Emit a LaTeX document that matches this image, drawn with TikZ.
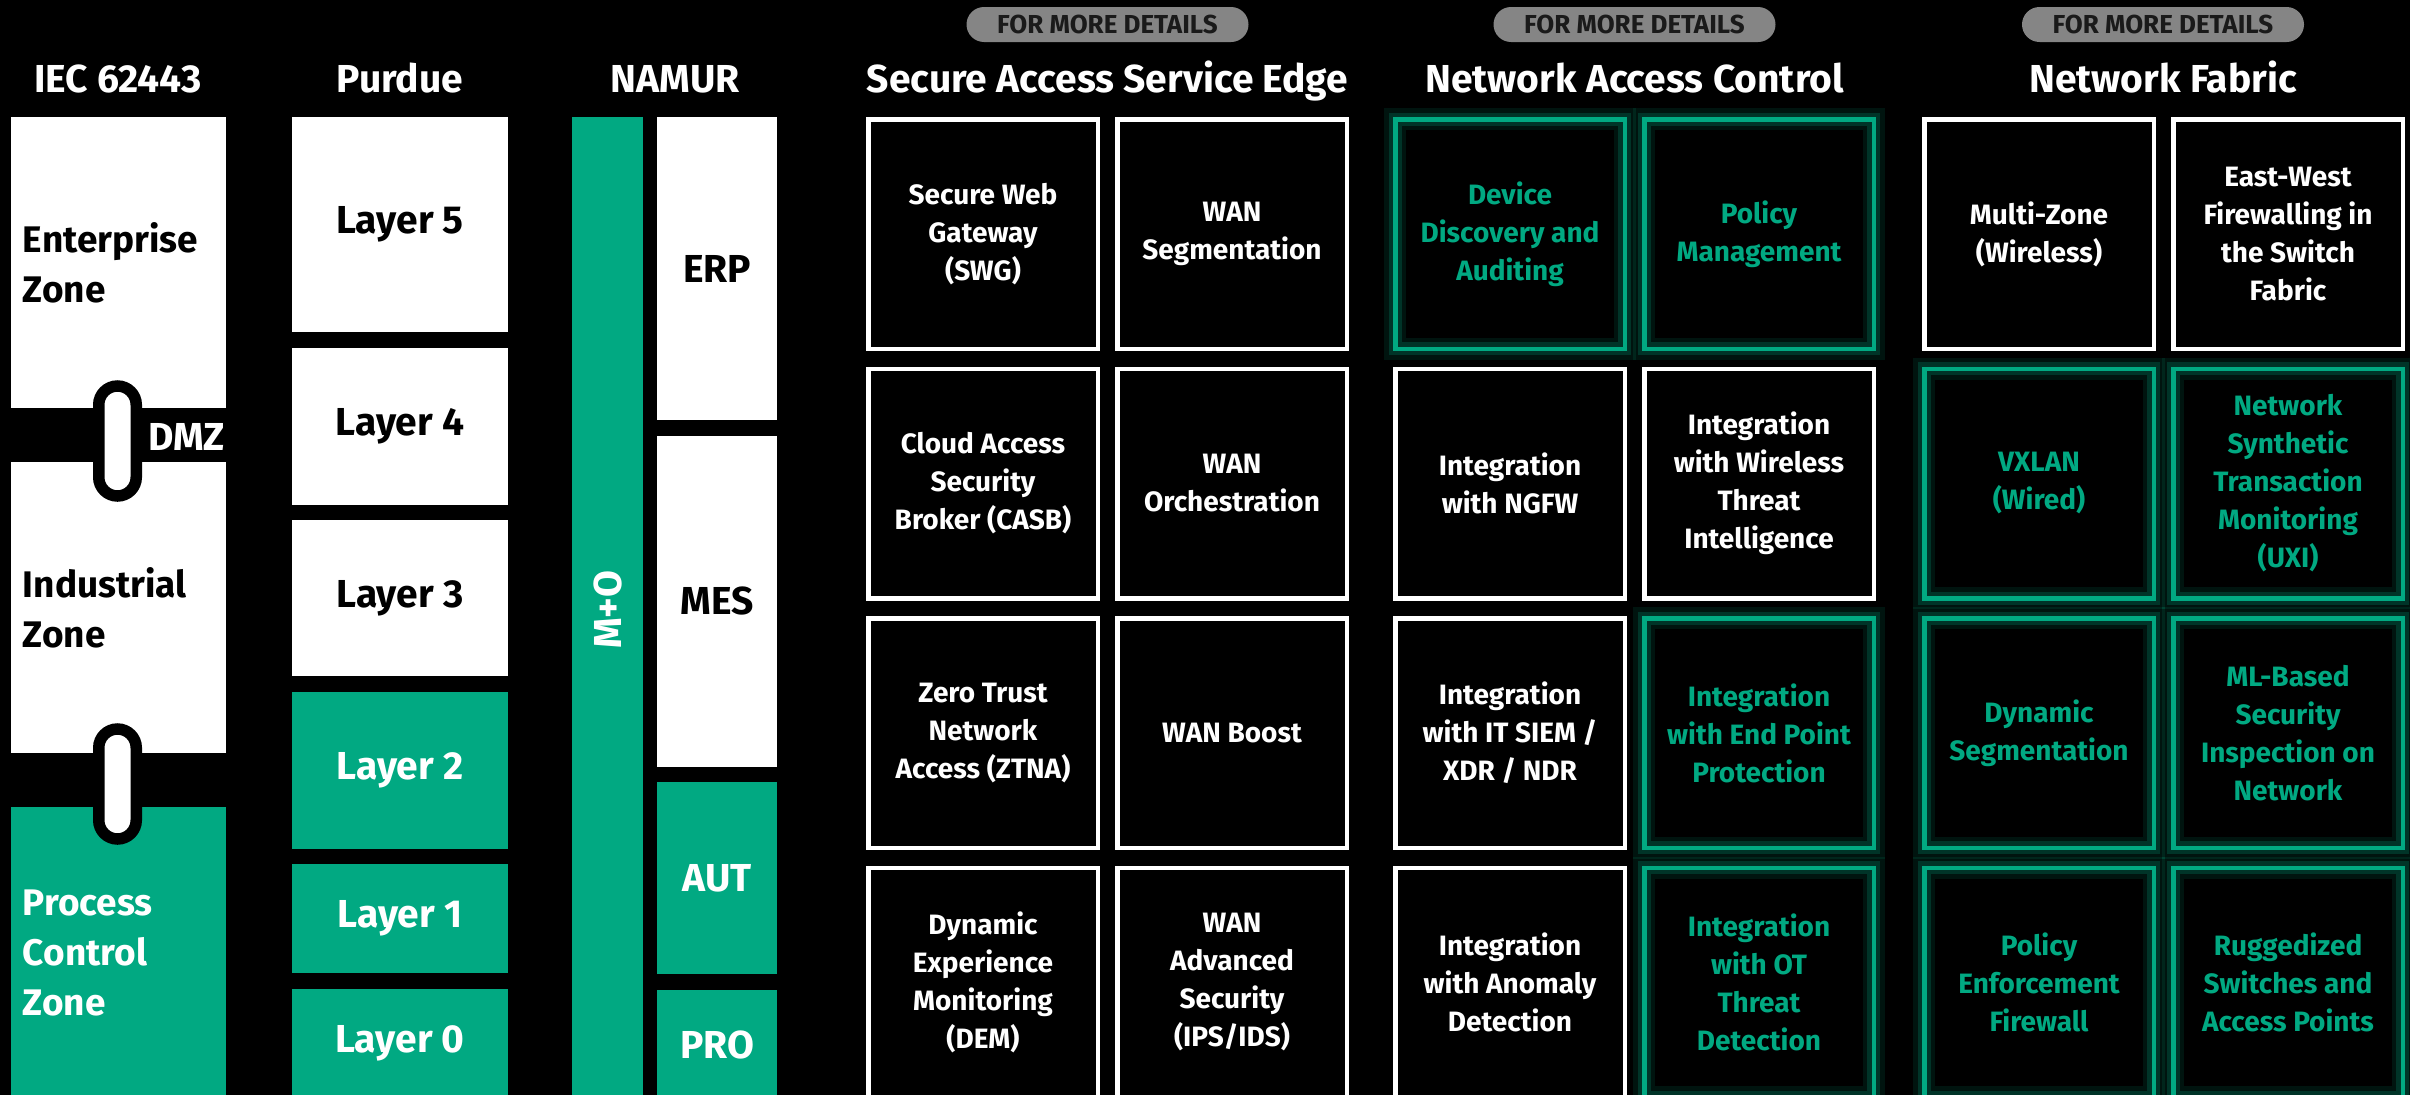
\documentclass[tikz,border=0pt]{standalone}
\usepackage{fontspec}
\setmainfont{Fira Sans}[BoldFont={Fira Sans Bold}]
\usetikzlibrary{positioning}

\definecolor{hpegreen}{HTML}{01A982}
\definecolor{pillgray}{HTML}{858585}
\definecolor{pilltext}{HTML}{1A1A1A}

\newcommand{\headfont}{\fontsize{39}{42}\selectfont\bfseries}
\newcommand{\zonefont}{\fontsize{37}{50}\selectfont\bfseries}
\newcommand{\cellfont}{\fontsize{28}{38}\selectfont\bfseries}

\begin{document}
\begin{tikzpicture}[x=1pt,y=-1pt,
  head/.style={text=white,font=\headfont,anchor=base},
  details/.style={fill=pillgray,text=pilltext,rounded corners=17.5pt,minimum width=282pt,minimum height=35pt,inner sep=0pt,font=\fontsize{26}{26}\selectfont\bfseries},
  zone/.style={anchor=north west,inner sep=0pt,outer sep=0pt,text width=191pt,align=left,minimum width=215pt,minimum height=291pt,font=\zonefont},
  layer/.style={anchor=north west,inner sep=0pt,outer sep=0pt,minimum width=216pt,font=\headfont},
  namur/.style={anchor=north west,inner sep=0pt,outer sep=0pt,minimum width=120pt,font=\headfont},
  dmzlink/.style={draw=black,fill=white,line width=11.5pt,rounded corners=18.75pt,minimum width=37.5pt,minimum height=110pt,inner sep=0pt},
  wbox/.style={draw=white,line width=4.5pt,fill=black,text=white,minimum width=229.5pt,minimum height=229.5pt,inner sep=0pt,align=center,font=\cellfont},
  gbox/.style={wbox,draw=hpegreen,text=hpegreen,
    postaction={draw=hpegreen,draw opacity=.12,line width=22pt},
    postaction={draw=hpegreen,draw opacity=.22,line width=13pt}},
  node distance=15pt]

\useasboundingbox (0,0) rectangle (2410,1095);
\fill[black] (0,0) rectangle (2410,1095);

% column headings
\node[head] (iec) at (118,92) {IEC 62443};
\node[head] (purdue) at (400,92) {Purdue};
\node[head] (namur) at (675,92) {NAMUR};
\node[head] (sase) at (1107.5,92) {Secure Access Service Edge};
\node[head] (nac) at (1634.5,92) {Network Access Control};
\node[head] (fabric) at (2163,92) {Network Fabric};
\node[details] (saseinfo) at (1107.5,24.5) {FOR MORE DETAILS};
\node[details] (nacinfo) at (1634.5,24.5) {FOR MORE DETAILS};
\node[details] (fabricinfo) at (2163,24.5) {FOR MORE DETAILS};

% IEC 62443 zones
\node[zone,fill=white,text=black] (enterprise) at (11,117) {Enterprise\\Zone};
\node[zone,fill=white,text=black] (industrial) at (11,462) {Industrial\\Zone};
\node[zone,fill=hpegreen,text=white] (process) at (11,807) {Process\\Control\\Zone};
\node[dmzlink] (link1) at (117.5,441) {};
\node[dmzlink] (link2) at (117.5,784) {};
\node[text=white,font=\headfont,anchor=west,inner sep=0pt] (dmz) at (148,437) {DMZ};

% Purdue layers
\node[layer,fill=white,text=black,minimum height=215pt] (l5) at (292,117) {Layer 5};
\node[layer,fill=white,text=black,minimum height=157pt] (l4) [below=15.5pt of l5] {Layer 4};
\node[layer,fill=white,text=black,minimum height=156pt] (l3) [below=15.5pt of l4] {Layer 3};
\node[layer,fill=hpegreen,text=white,minimum height=157pt] (l2) [below=15.5pt of l3] {Layer 2};
\node[layer,fill=hpegreen,text=white,minimum height=109pt] (l1) [below=15.5pt of l2] {Layer 1};
\node[layer,fill=hpegreen,text=white,minimum height=110pt] (l0) [below=15.5pt of l1] {Layer 0};

% NAMUR
\node[fill=hpegreen,anchor=north west,inner sep=0pt,minimum width=71pt,minimum height=985pt] (mo) at (572,117) {};
\node[rotate=90,text=white,font=\headfont] (molabel) at (mo.center) {M+O};
\node[namur,fill=white,text=black,minimum height=303pt] (erp) at (657,117) {ERP};
\node[namur,fill=white,text=black,minimum height=331pt] (mes) [below=15.5pt of erp] {MES};
\node[namur,fill=hpegreen,text=white,minimum height=192pt] (aut) [below=15.5pt of mes] {AUT};
\node[namur,fill=hpegreen,text=white,minimum height=110pt] (pro) [below=15.5pt of aut] {PRO};

% Secure Access Service Edge
\node[wbox] (sase11) at (983,234) {Secure Web\\Gateway\\(SWG)};
\node[wbox] (sase12) [right=of sase11] {WAN\\Segmentation};
\node[wbox] (sase21) [below=15.5pt of sase11] {Cloud Access\\Security\\Broker (CASB)};
\node[wbox] (sase22) [right=of sase21] {WAN\\Orchestration};
\node[wbox] (sase31) [below=15.5pt of sase21] {Zero Trust\\Network\\Access (ZTNA)};
\node[wbox] (sase32) [right=of sase31] {WAN Boost};
\node[wbox] (sase41) [below=15.5pt of sase31] {Dynamic\\Experience\\Monitoring\\(DEM)};
\node[wbox] (sase42) [right=of sase41] {WAN\\Advanced\\Security\\(IPS/IDS)};

% Network Access Control
\node[gbox] (nac11) at (1510,234) {Device\\Discovery and\\Auditing};
\node[gbox] (nac12) [right=of nac11] {Policy\\Management};
\node[wbox] (nac21) [below=15.5pt of nac11] {Integration\\with NGFW};
\node[wbox] (nac22) [right=of nac21] {Integration\\with Wireless\\Threat\\Intelligence};
\node[wbox] (nac31) [below=15.5pt of nac21] {Integration\\with IT SIEM /\\XDR / NDR};
\node[gbox] (nac32) [right=of nac31] {Integration\\with End Point\\Protection};
\node[wbox] (nac41) [below=15.5pt of nac31] {Integration\\with Anomaly\\Detection};
\node[gbox] (nac42) [right=of nac41] {Integration\\with OT\\Threat\\Detection};

% Network Fabric
\node[wbox] (fab11) at (2039,234) {Multi-Zone\\(Wireless)};
\node[wbox] (fab12) [right=of fab11] {East-West\\Firewalling in\\the Switch\\Fabric};
\node[gbox] (fab21) [below=15.5pt of fab11] {VXLAN\\(Wired)};
\node[gbox] (fab22) [right=of fab21] {Network\\Synthetic\\Transaction\\Monitoring\\(UXI)};
\node[gbox] (fab31) [below=15.5pt of fab21] {Dynamic\\Segmentation};
\node[gbox] (fab32) [right=of fab31] {ML-Based\\Security\\Inspection on\\Network};
\node[gbox] (fab41) [below=15.5pt of fab31] {Policy\\Enforcement\\Firewall};
\node[gbox] (fab42) [right=of fab41] {Ruggedized\\Switches and\\Access Points};
\end{tikzpicture}
\end{document}
